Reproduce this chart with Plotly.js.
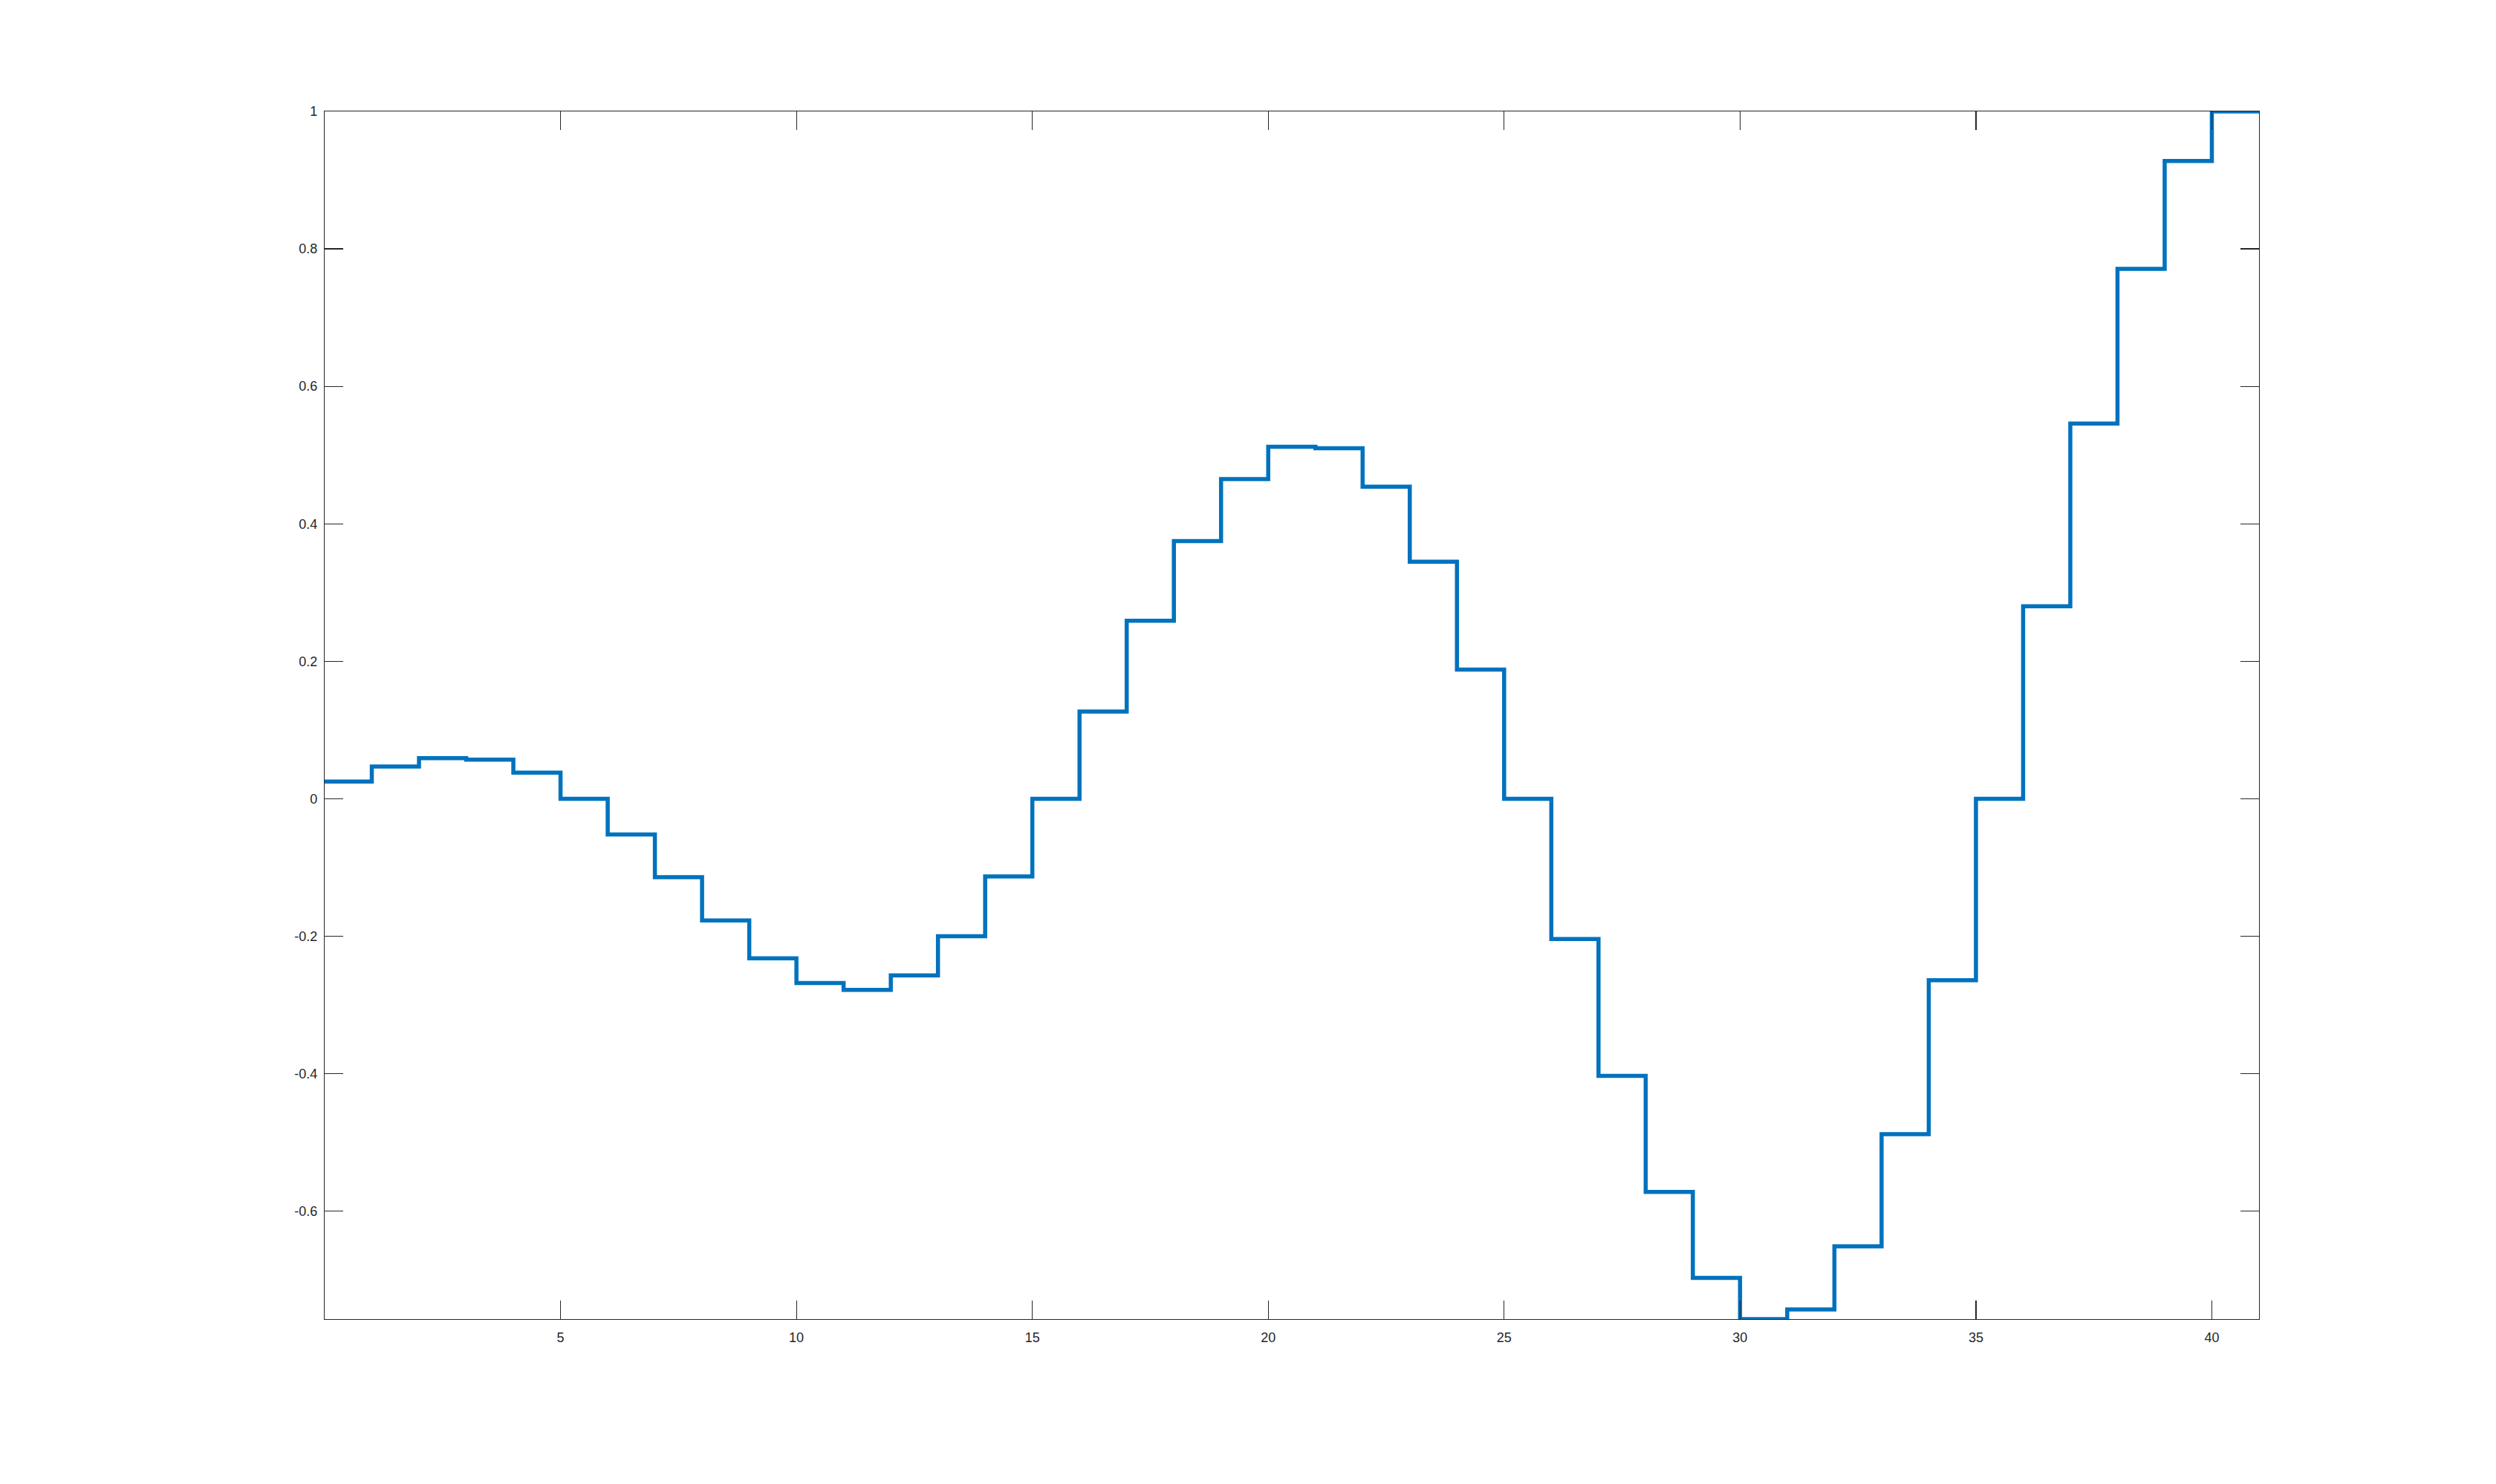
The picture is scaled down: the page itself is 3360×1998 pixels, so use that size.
<!DOCTYPE html>
<html>
<head>
<meta charset="utf-8">
<script src="https://cdn.plot.ly/plotly-3.0.1.min.js"></script>
<style>
html,body{margin:0;padding:0;background:#fff;}
#chart{width:3360px;height:1998px;}
</style>
</head>
<body>
<div id="chart"></div>
<script>
// step positions (x) and step levels (y); last level is held to the end
const xSteps = [0,1,2,3,4,5,6,7,8,9,10,11,12,13,14,15,16,17,18,19,20,21,22,23,24,25,26,27,28,29,30,31,32,33,34,35,36,37,38,39,40,41];
const yLevels = [0.025,0.047,0.059,0.057,0.038,0.000,-0.052,-0.114,-0.177,-0.232,-0.268,-0.278,-0.257,-0.200,-0.113,0.000,0.127,0.259,0.375,0.465,0.512,0.510,0.454,0.345,0.188,0.000,-0.204,-0.403,-0.572,-0.697,-0.757,-0.743,-0.651,-0.488,-0.264,0.000,0.280,0.546,0.771,0.928,1.000,1.000];
const xTickVals = [5,10,15,20,25,30,35,40];
const xTickText = ['5','10','15','20','25','30','35','40'];
const yTickVals = [-0.6,-0.4,-0.2,0,0.2,0.4,0.6,0.8,1];
const yTickText = ['-0.6','-0.4','-0.2','0','0.2','0.4','0.6','0.8','1'];

const axisCommon = {
  showgrid:false, zeroline:false, showline:true, mirror:'ticks',
  linecolor:'#262626', linewidth:1.2,
  ticks:'inside', ticklen:25, tickwidth:1.2, tickcolor:'#262626',
  tickfont:{family:'Liberation Sans, Arial, Helvetica, sans-serif', size:18, color:'#262626'},
  tickmode:'array'
};

const trace = {
  type:'scatter', mode:'lines',
  x:xSteps, y:yLevels,
  line:{shape:'hv', color:'#0072BD', width:5.5},
  hoverinfo:'skip'
};

const layout = {
  width:3360, height:1998,
  paper_bgcolor:'#ffffff', plot_bgcolor:'#ffffff',
  margin:{l:437, r:319, t:150, b:222, pad:0},
  showlegend:false,
  xaxis:Object.assign({}, axisCommon, {range:[0,41], tickvals:xTickVals, ticktext:xTickText, ticklabelstandoff:8}),
  yaxis:Object.assign({}, axisCommon, {range:[Math.min(...yLevels), Math.max(...yLevels)], tickvals:yTickVals, ticktext:yTickText, ticklabelstandoff:5})
};

Plotly.newPlot('chart', [trace], layout, {staticPlot:true, displayModeBar:false});
</script>
</body>
</html>
